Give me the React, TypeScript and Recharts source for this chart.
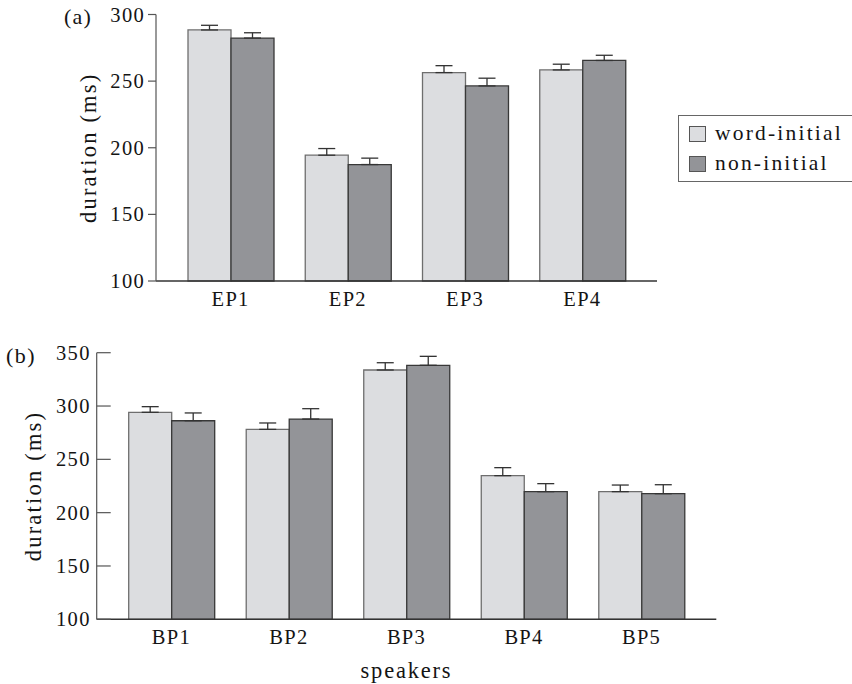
import React from 'react';
import { BarChart, Bar, XAxis, YAxis, ErrorBar, Legend } from 'recharts';

const FONT = '"Liberation Serif", "Times New Roman", serif';
const TEXT = '#141414';

// ---- panel (a) ----
const categoriesA = ['EP1', 'EP2', 'EP3', 'EP4'];
const wordInitialA = [288.4, 194.4, 256.4, 258.4];
const nonInitialA = [282.3, 187.4, 246.4, 265.5];
const wordInitialErrA = [3.5, 5.0, 5.2, 4.3];
const nonInitialErrA = [4.0, 4.8, 5.8, 3.9];
const ticksA = [100, 150, 200, 250, 300];

// ---- panel (b) ----
const categoriesB = ['BP1', 'BP2', 'BP3', 'BP4', 'BP5'];
const wordInitialB = [294.1, 278.1, 333.8, 234.7, 219.7];
const nonInitialB = [286.2, 287.8, 338.2, 219.7, 217.8];
const wordInitialErrB = [5.3, 6.0, 6.8, 7.5, 6.2];
const nonInitialErrB = [7.3, 9.7, 8.4, 7.5, 8.4];
const ticksB = [100, 150, 200, 250, 300, 350];

const seriesNames = ['word-initial', 'non-initial'];
const seriesFills = ['#dcdde0', '#939498'];
const seriesStrokes = ['#6e6e6e', '#383838'];

const build = (cats: string[], w: number[], n: number[], we: number[], ne: number[]) =>
  cats.map((c, i) => ({ name: c, w: w[i], n: n[i], we: [0, we[i]], ne: [0, ne[i]] }));

const dataA = build(categoriesA, wordInitialA, nonInitialA, wordInitialErrA, nonInitialErrA);
const dataB = build(categoriesB, wordInitialB, nonInitialB, wordInitialErrB, nonInitialErrB);

const makeYTick = (inward: boolean) => (props: any) => {
  const { x, y, payload } = props;
  return (
    <g>
      <line
        x1={inward ? x : x - 8}
        x2={inward ? x + 14 : x}
        y1={y}
        y2={y}
        stroke="#555"
        strokeWidth={1.2}
      />
      <text
        x={inward ? x - 6 : x - 11}
        y={y}
        dy={7}
        textAnchor="end"
        fontFamily={FONT}
        fontSize={20.5}
        letterSpacing={1.3}
        fill={TEXT}
      >
        {payload.value}
      </text>
    </g>
  );
};

const XTick = (props: any) => {
  const { x, y, payload } = props;
  return (
    <text x={x} y={y + 25} textAnchor="middle" fontFamily={FONT} fontSize={20.5} letterSpacing={1.3} fill={TEXT}>
      {payload.value}
    </text>
  );
};

const TitleA = () => (
  <g>
    <text x={64} y={24} fontFamily={FONT} fontSize={22} letterSpacing={1.2} fill={TEXT}>(a)</text>
    <text
      x={96}
      y={147.75}
      transform="rotate(-90, 96, 147.75)"
      textAnchor="middle"
      fontFamily={FONT}
      fontSize={22.5}
      letterSpacing={2.2}
      fill={TEXT}
    >
      duration (ms)
    </text>
  </g>
);

const TitleB = () => (
  <g>
    <text x={6} y={33} fontFamily={FONT} fontSize={22} letterSpacing={1.5} fill={TEXT}>(b)</text>
    <text
      x={41}
      y={156}
      transform="rotate(-90, 41, 156)"
      textAnchor="middle"
      fontFamily={FONT}
      fontSize={22.5}
      letterSpacing={2.2}
      fill={TEXT}
    >
      duration (ms)
    </text>
  </g>
);

const SpeakersLabel = () => (
  <text x={406.5} y={348} textAnchor="middle" fontFamily={FONT} fontSize={22.5} letterSpacing={1.8} fill={TEXT}>
    speakers
  </text>
);

const LegendBox = () => (
  <svg width={190} height={67} style={{ display: 'block' }}>
    <rect x={0.5} y={0.5} width={189} height={66} fill="#fff" stroke="#666" strokeWidth={1} />
    {seriesNames.map((name, i) => (
      <g key={name}>
        <rect x={11.5} y={11.5 + i * 30} width={16} height={15} fill={seriesFills[i]} stroke="#555" strokeWidth={1} />
        <text x={37} y={25 + i * 30} fontFamily={FONT} fontSize={21.5} letterSpacing={2.2} fill={TEXT}>
          {name}
        </text>
      </g>
    ))}
  </svg>
);

const Panel = ({
  data,
  width,
  height,
  margin,
  yAxisWidth,
  xAxisHeight,
  domain,
  ticks,
  inward,
  title,
  xLabel,
  legend,
}: any) => (
  <BarChart width={width} height={height} data={data} margin={margin} barCategoryGap={16} barGap={0}>
    <XAxis
      dataKey="name"
      height={xAxisHeight}
      padding={{ left: 16, right: 16 }}
      tickLine={false}
      tickSize={0}
      tickMargin={0}
      tick={XTick}
      axisLine={{ stroke: '#333', strokeWidth: 1.4 }}
      label={xLabel}
    />
    <XAxis
      xAxisId="top"
      orientation="top"
      height={0}
      tick={false}
      tickLine={false}
      axisLine={{ stroke: '#8a8a8a', strokeWidth: 1.2 }}
    />
    <YAxis
      type="number"
      domain={domain}
      ticks={ticks}
      width={yAxisWidth}
      tickLine={false}
      tickSize={0}
      tickMargin={0}
      tick={makeYTick(inward)}
      axisLine={{ stroke: '#555', strokeWidth: 1.2 }}
      interval={0}
      label={title}
    />
    <YAxis
      yAxisId="right"
      orientation="right"
      width={0}
      tick={false}
      tickLine={false}
      axisLine={{ stroke: '#333', strokeWidth: 1.3 }}
    />
    {legend}
    <Bar dataKey="w" name={seriesNames[0]} fill={seriesFills[0]} stroke={seriesStrokes[0]} strokeWidth={1.3} isAnimationActive={false}>
      <ErrorBar dataKey="we" direction="y" width={8.5} stroke="#333" strokeWidth={1.3} isAnimationActive={false} />
    </Bar>
    <Bar dataKey="n" name={seriesNames[1]} fill={seriesFills[1]} stroke={seriesStrokes[1]} strokeWidth={1.3} isAnimationActive={false}>
      <ErrorBar dataKey="ne" direction="y" width={8.5} stroke="#333" strokeWidth={1.3} isAnimationActive={false} />
    </Bar>
  </BarChart>
);

export default function App() {
  return (
    <div
      style={{
        position: 'absolute',
        left: 0,
        top: 0,
        width: 852,
        height: 684,
        overflow: 'hidden',
        background: '#fff',
      }}
    >
      <div style={{ position: 'absolute', left: 0, top: 0 }}>
        <Panel
          data={dataA}
          width={852}
          height={330}
          margin={{ top: 14.5, right: 195, bottom: 9, left: 96 }}
          yAxisWidth={60}
          xAxisHeight={40}
          domain={[100, 300]}
          ticks={ticksA}
          inward={false}
          title={<TitleA />}
          legend={
            <Legend
              layout="vertical"
              align="center"
              verticalAlign="middle"
              wrapperStyle={{ left: 678, top: 114.5, width: 190, height: 67 }}
              content={() => <LegendBox />}
            />
          }
        />
      </div>
      <div style={{ position: 'absolute', left: 0, top: 330 }}>
        <Panel
          data={dataB}
          width={852}
          height={354}
          margin={{ top: 22.7, right: 135.7, bottom: 4.7, left: 36.7 }}
          yAxisWidth={60}
          xAxisHeight={60}
          domain={[100, 350]}
          ticks={ticksB}
          inward={true}
          title={<TitleB />}
          xLabel={<SpeakersLabel />}
        />
      </div>
    </div>
  );
}
